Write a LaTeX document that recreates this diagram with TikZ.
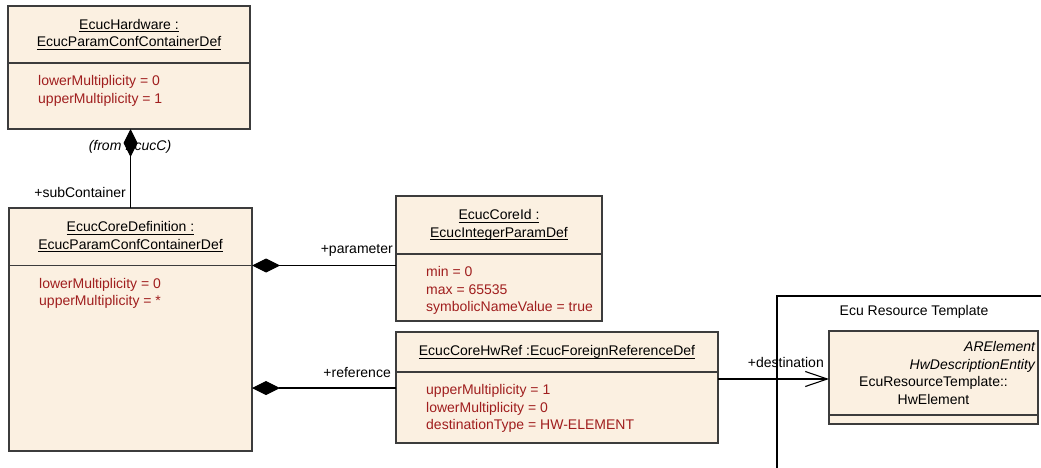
\documentclass[tikz,border=0pt]{standalone}
\usepackage{fontspec}
\setmainfont{Liberation Sans}
\usetikzlibrary{arrows.meta,positioning}
\definecolor{classfill}{RGB}{251,240,225}
\definecolor{attrred}{RGB}{160,30,30}
\definecolor{boxline}{RGB}{60,60,60}
\newcommand{\uname}[1]{\setbox0\hbox{#1}\rlap{\rule[-3pt]{\wd0}{0.9pt}}\box0}

\begin{document}
\begin{tikzpicture}[
    x=1pt, y=-1pt,
    font=\fontsize{14}{17.5}\selectfont,
    classhead/.style={draw=boxline, fill=classfill, line width=1.3pt, outer sep=0pt, inner sep=3pt, align=center, anchor=north west},
    classbody/.style={draw=boxline, fill=classfill, line width=1.3pt, outer sep=0pt, anchor=north},
    attr/.style={anchor=north west, align=left, text=attrred, inner sep=0pt},
    role/.style={inner sep=0pt, anchor=base east},
    comp/.style={{Diamond[length=28pt,width=14pt]}-, line width=1.1pt},
    dest/.style={-{Straight Barb[length=22pt,width=15pt]}, line width=1.1pt}
]
\useasboundingbox (0,0) rectangle (1041,468);

% package frame
\draw[line width=1.1pt] (777,468) |- (1041,296);
\node[inner sep=0pt, anchor=base] (pkglbl) at (914,315) {Ecu Resource Template};

% classes
\node[classhead, minimum width=242pt, minimum height=57pt] (hwhead) at (8,6) {\uname{EcucHardware :}\\\uname{EcucParamConfContainerDef}};
\node[classbody, minimum width=242pt, minimum height=66pt] (hwbody) at (hwhead.south) {};
\node[attr] (hwattr) at ([xshift=30pt,yshift=-12.5pt]hwbody.north west) {lowerMultiplicity = 0\\upperMultiplicity = 1};

\node[classhead, minimum width=243pt, minimum height=57.5pt] (corehead) at (9,208) {\uname{EcucCoreDefinition :}\\\uname{EcucParamConfContainerDef}};
\node[classbody, minimum width=243pt, minimum height=185.5pt] (corebody) at (corehead.south) {};
\node[attr] (coreattr) at ([xshift=30pt,yshift=-12.5pt]corebody.north west) {lowerMultiplicity = 0\\upperMultiplicity = *};

\node[classhead, minimum width=206pt, minimum height=58pt] (coreidhead) at (396,196) {\uname{EcucCoreId :}\\\uname{EcucIntegerParamDef}};
\node[classbody, minimum width=206pt, minimum height=67pt] (coreidbody) at (coreidhead.south) {};
\node[attr] (coreidattr) at ([xshift=30pt,yshift=-12.5pt]coreidbody.north west) {min = 0\\max = 65535\\symbolicNameValue = true};

\node[classhead, minimum width=322pt, minimum height=40pt] (hwrefhead) at (396,332) {\uname{EcucCoreHwRef :EcucForeignReferenceDef}};
\node[classbody, minimum width=322pt, minimum height=71pt] (hwrefbody) at (hwrefhead.south) {};
\node[attr] (hwrefattr) at ([xshift=30pt,yshift=-12.5pt]hwrefbody.north west) {upperMultiplicity = 1\\lowerMultiplicity = 0\\destinationType = HW-ELEMENT};

\node[classhead, minimum width=209pt, minimum height=84pt, text width=203pt] (hwelhead) at (829,331) {{\raggedleft\itshape ARElement\\HwDescriptionEntity\par}EcuResourceTemplate::\\HwElement};
\node[classbody, minimum width=209pt, minimum height=9pt] (hwelbody) at (hwelhead.south) {};

% connectors
\node[inner sep=0pt, anchor=base] (fromlbl) at (130,150) {\itshape (from EcucC)};
\draw[comp] (corehead.north |- hwbody.south) -- (corehead.north);
\node[role] (subrole) at (126,197) {+subContainer};

\draw[comp] (corehead.south east) -- (corehead.south east -| coreidhead.west);
\node[role] (paramrole) at (393,253) {+parameter};

\coordinate (refpt) at ([yshift=-16pt]hwrefbody.north west);
\draw[comp] (refpt -| corebody.east) -- (refpt);
\node[role] (refrole) at (391,377) {+reference};

\coordinate (destsrc) at ([yshift=-7pt]hwrefbody.north east);
\draw[dest] (destsrc) -- (destsrc -| hwelhead.west);
\node[role] (destrole) at (824,367) {+destination};

\end{tikzpicture}
\end{document}
